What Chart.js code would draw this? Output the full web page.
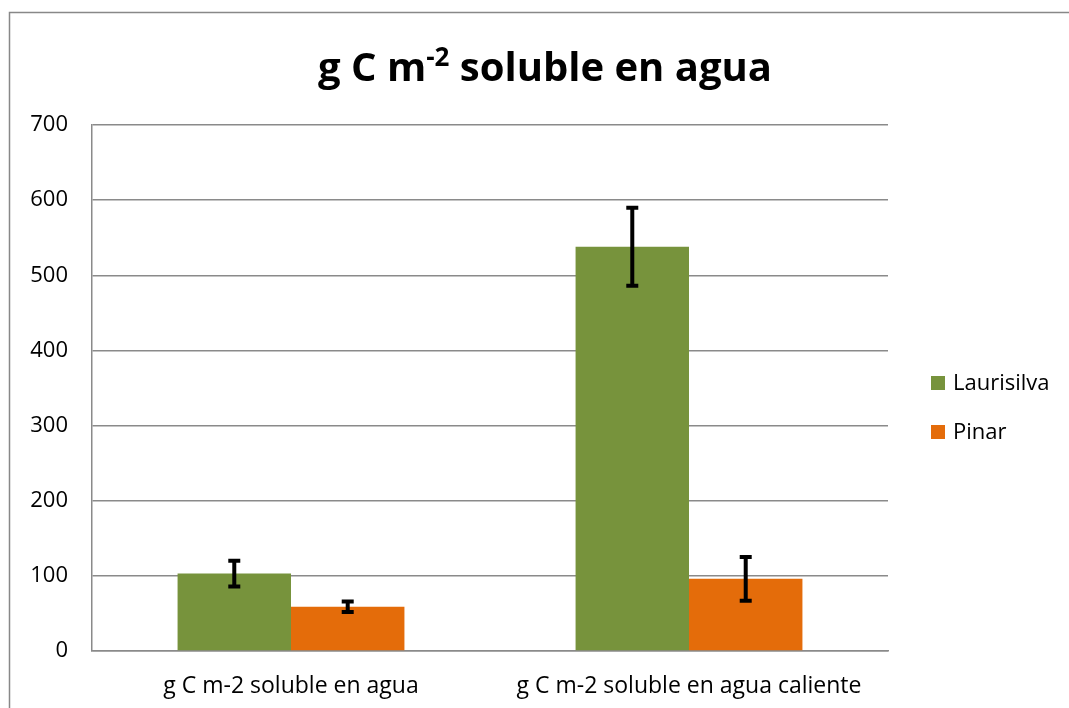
<!DOCTYPE html>
<html>
<head>
<meta charset="utf-8">
<script src="https://cdn.jsdelivr.net/npm/chart.js@4"></script>
<style>
  html, body { margin: 0; padding: 0; background: #fff; }
  #wrap { width: 1069px; height: 708px; position: relative; }
</style>
</head>
<body>
<div id="wrap"><canvas id="c" width="1069" height="708"></canvas></div>
<script>
// ---- data ----
const categories = ["g C m-2 soluble en agua", "g C m-2 soluble en agua caliente"];
const seriesNames = ["Laurisilva", "Pinar"];
const laurisilva = [103, 538];
const pinar = [59, 96];
const laurisilvaErr = [17, 52];
const pinarErr = [7, 29];
const yTicks = [0, 100, 200, 300, 400, 500, 600, 700];
const titleMain = "g C m";
const titleSup = "-2";
const titleRest = " soluble en agua";

const colors = ["#77933C", "#E46C0A"];
const FONT = "'Open Sans', Lato, sans-serif";

const errors = [laurisilvaErr, pinarErr];

const framePlugin = {
  id: 'frame',
  beforeDraw(chart) {
    const ctx = chart.ctx;
    ctx.save();
    ctx.fillStyle = '#fff';
    ctx.fillRect(0, 0, chart.width, chart.height);
    ctx.strokeStyle = '#888';
    ctx.lineWidth = 1.5;
    ctx.strokeRect(9.5, 12.5, 1200, 900);
    ctx.restore();
  }
};

const errorBarPlugin = {
  id: 'errorBars',
  afterDatasetsDraw(chart) {
    const ctx = chart.ctx;
    const y = chart.scales.y;
    ctx.save();
    ctx.strokeStyle = '#000';
    ctx.lineWidth = 4;
    chart.data.datasets.forEach((ds, di) => {
      const meta = chart.getDatasetMeta(di);
      meta.data.forEach((bar, i) => {
        const v = ds.data[i], e = errors[di][i];
        const yt = y.getPixelForValue(v + e);
        const yb = y.getPixelForValue(v - e);
        const x = bar.x;
        ctx.beginPath();
        ctx.moveTo(x, yt); ctx.lineTo(x, yb);
        ctx.moveTo(x - 6, yt); ctx.lineTo(x + 6, yt);
        ctx.moveTo(x - 6, yb); ctx.lineTo(x + 6, yb);
        ctx.stroke();
      });
    });
    ctx.restore();
  }
};

const titleLegendPlugin = {
  id: 'titleLegend',
  afterDraw(chart) {
    const ctx = chart.ctx;
    ctx.save();
    // title
    const big = "bold 40px " + FONT;
    const small = "bold 26px " + FONT;
    ctx.font = big;
    const w1 = ctx.measureText(titleMain).width;
    const w3 = ctx.measureText(titleRest).width;
    ctx.font = small;
    const w2 = ctx.measureText(titleSup).width;
    const total = w1 + w2 + w3;
    let x = 545 - total / 2;
    const base = 81;
    ctx.fillStyle = '#000';
    ctx.textBaseline = 'alphabetic';
    ctx.textAlign = 'left';
    ctx.font = big; ctx.fillText(titleMain, x, base); x += w1;
    ctx.font = small; ctx.fillText(titleSup, x, base - 15); x += w2;
    ctx.font = big; ctx.fillText(titleRest, x, base);
    // legend
    ctx.font = "22px " + FONT;
    ctx.textBaseline = 'middle';
    chart.data.datasets.forEach((ds, i) => {
      const cy = 383 + i * 49;
      ctx.fillStyle = ds.backgroundColor;
      ctx.fillRect(931, cy - 7, 14, 14);
      ctx.fillStyle = '#000';
      ctx.fillText(ds.label, 953, cy + 1);
    });
    ctx.restore();
  }
};

new Chart(document.getElementById('c'), {
  type: 'bar',
  data: {
    labels: categories,
    datasets: [
      { label: seriesNames[0], data: laurisilva, backgroundColor: colors[0] },
      { label: seriesNames[1], data: pinar, backgroundColor: colors[1] }
    ]
  },
  options: {
    responsive: false,
    animation: false,
    devicePixelRatio: 1,
    layout: { padding: { top: 125, right: 181, left: 10, bottom: 0 } },
    datasets: { bar: { barPercentage: 1, categoryPercentage: 0.57 } },
    plugins: { legend: { display: false }, title: { display: false }, tooltip: { enabled: false } },
    scales: {
      x: {
        afterFit(s) { s.height = 57; },
        grid: { display: false, drawTicks: false },
        border: { color: '#8a8a8a', width: 1.5 },
        ticks: { color: '#000', font: { family: FONT, size: 23 }, padding: 22, maxRotation: 0 }
      },
      y: {
        min: 0, max: 700,
        afterFit(s) { s.width = 82; },
        afterBuildTicks(s) { s.ticks = yTicks.map(v => ({ value: v })); },
        grid: { color: '#8a8a8a', lineWidth: 1.5, drawTicks: false },
        border: { color: '#8a8a8a', width: 1.5 },
        ticks: { color: '#000', font: { family: FONT, size: 22 }, padding: 24 }
      }
    }
  },
  plugins: [framePlugin, errorBarPlugin, titleLegendPlugin]
});
</script>
</body>
</html>
